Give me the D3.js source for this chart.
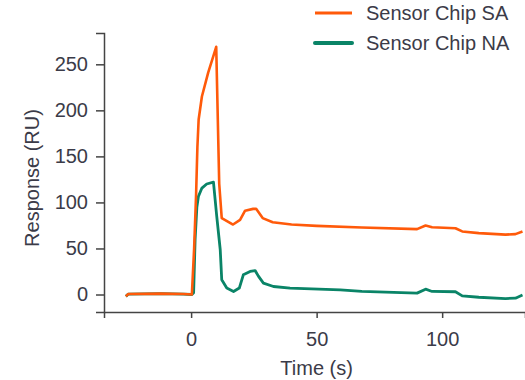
<!DOCTYPE html>
<html>
<head>
<meta charset="utf-8">
<script src="https://cdn.jsdelivr.net/npm/d3@7"></script>
<style>
html,body{margin:0;padding:0;background:#fff;}
svg{display:block;font-family:"Liberation Sans",Arial,sans-serif;}
</style>
</head>
<body>
<svg id="chart" width="525" height="380"></svg>
<script>
const seriesNames = ["Sensor Chip SA", "Sensor Chip NA"];
const timeSA = [-26, -25, -12, -3, 0.3, 1.2, 2, 2.5, 3, 4.3, 6.8, 10, 11.2, 12.2, 16.7, 19.5, 21.5, 24.7, 25.9, 28.5, 32.5, 40, 50, 68, 90, 93.4, 96, 105.3, 108, 114.6, 125.2, 129.2, 132];
const valuesSA = [-2, 0.5, 1, 0.5, 0, 50, 110, 160, 190, 215, 241, 269, 120, 83, 76, 81, 91, 93, 93, 83, 78.5, 76, 74.5, 72.8, 71, 75, 73, 72, 68.5, 66.7, 65, 65.6, 68.5];
const timeNA = [-26, -25, -12, -3, 0.3, 1, 1.6, 2.3, 2.9, 4.3, 6.2, 8.9, 10.2, 11.6, 12.2, 14.2, 16.9, 19.2, 20.8, 23.5, 25.5, 26.8, 28.8, 32.8, 39.4, 59.4, 68, 90, 93.4, 96, 105.3, 108, 114.6, 125.2, 129.2, 132];
const valuesNA = [-2, 0.5, 1, 0.5, 0, 2, 60, 95, 106.5, 115.6, 120, 122, 85, 48.6, 16, 7, 3.3, 7, 21.4, 25, 26, 20, 12.4, 8.7, 7, 5, 3.3, 1.5, 5.8, 3.3, 3, -1.5, -3, -4.4, -4, -0.5];
const xTicks = [0, 50, 100];
const yTicks = [0, 50, 100, 150, 200, 250];
const colors = ["#ff5a0a", "#0a8467"];

const svg = d3.select("#chart");
const x = d3.scaleLinear().domain([-34.7, 133]).range([104, 525]);
const y = d3.scaleLinear().domain([-19, 284]).range([312, 33]);
const textColor = "#3b3b48";
const axisColor = "#444";

// axes
const xAxis = svg.append("g").attr("transform", "translate(0,312)")
  .call(d3.axisBottom(x).tickValues(xTicks).tickSizeOuter(0).tickSize(6).tickPadding(14));
const yAxis = svg.append("g").attr("transform", "translate(104,0)")
  .call(d3.axisLeft(y).tickValues(yTicks).tickSizeOuter(0).tickSize(8).tickPadding(8));
[xAxis, yAxis].forEach(g => {
  g.select(".domain").attr("stroke", axisColor).attr("stroke-width", 1.5);
  g.selectAll(".tick line").attr("stroke", axisColor).attr("stroke-width", 1.5);
  g.selectAll(".tick text").attr("fill", textColor).attr("font-size", 20)
   .attr("font-family", "Liberation Sans, Arial, sans-serif");
});

// lines
const line = d3.line().x(d => x(d[0])).y(d => y(d[1])).curve(d3.curveLinear);
const dataNA = timeNA.map((t, i) => [t, valuesNA[i]]);
const dataSA = timeSA.map((t, i) => [t, valuesSA[i]]);
svg.append("path").datum(dataNA).attr("d", line).attr("fill", "none")
  .attr("stroke", colors[1]).attr("stroke-width", 2.8).attr("stroke-linejoin", "round");
svg.append("path").datum(dataSA).attr("d", line).attr("fill", "none")
  .attr("stroke", colors[0]).attr("stroke-width", 2.6).attr("stroke-linejoin", "round");

// axis titles
svg.append("text").attr("x", x(50)).attr("y", 375).attr("text-anchor", "middle")
  .attr("font-size", 20).attr("fill", textColor).text("Time (s)");
svg.append("text").attr("transform", "translate(39,178) rotate(-90)").attr("text-anchor", "middle")
  .attr("font-size", 20).attr("fill", textColor).text("Response (RU)");

// legend
const legend = svg.append("g");
seriesNames.forEach((name, i) => {
  const ly = 13 + i * 30;
  legend.append("line").attr("x1", 315).attr("x2", 352).attr("y1", ly).attr("y2", ly)
    .attr("stroke", colors[i]).attr("stroke-width", i === 0 ? 3 : 4).attr("stroke-linecap", i === 0 ? "butt" : "round");
  legend.append("text").attr("x", 366).attr("y", ly + 7).attr("font-size", 20)
    .attr("fill", textColor).text(name);
});
</script>
</body>
</html>
